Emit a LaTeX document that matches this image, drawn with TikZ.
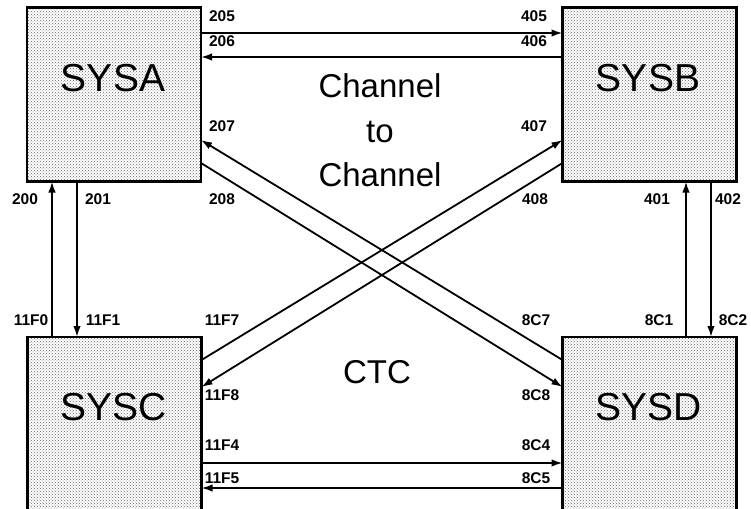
\documentclass[tikz,border=0pt]{standalone}
\usepackage{fontspec}
\setmainfont{Liberation Sans}
\usetikzlibrary{patterns,calc,arrows.meta}
\begin{document}
\begin{tikzpicture}[x=1pt,y=-1pt,
  sysbox/.style={draw=black,line width=2.6pt,pattern=crosshatch dots,pattern color=black!60,
    minimum width=174pt,minimum height=174pt,inner sep=0pt,outer sep=0pt},
  bigname/.style={font=\fontsize{39}{39}\selectfont,anchor=base,inner sep=0pt},
  midtext/.style={font=\fontsize{33}{33}\selectfont,anchor=base,inner sep=0pt},
  port/.style={font=\bfseries\fontsize{15.5}{15.5}\selectfont,anchor=base,inner sep=0pt},
  link/.style={line width=1.8pt},
  arr/.style={link,-{Latex[length=11pt,width=7.5pt]}}]
\clip (0,0) rectangle (751,508);
\fill[white] (0,0) rectangle (751,508);
% boxes
\node[sysbox] (A) at (114,94.5) {};
\node[sysbox] (B) at (649.5,94.5) {};
\node[sysbox] (C) at (114.5,424) {};
\node[sysbox] (D) at (649.5,424) {};
\node[bigname] (tA) at (113,92) {SYSA};
\node[bigname] (tB) at (648,92) {SYSB};
\node[bigname] (tC) at (114,420) {SYSC};
\node[bigname] (tD) at (649,420) {SYSD};
% middle text
\node[midtext] (ch1) at (380,98) {Channel};
\node[midtext] (to) at (380,142) {to};
\node[midtext] (ch2) at (380,186) {Channel};
\node[midtext] (ctc) at (377,383) {CTC};
% connector end points
\coordinate (a205) at ($(A.north east)+(0,25.5)$);
\coordinate (a206) at ($(A.north east)+(0,49.5)$);
\coordinate (a207) at ($(A.north east)+(0,132.5)$);
\coordinate (a208) at ($(A.north east)+(0,155.5)$);
\coordinate (b405) at ($(B.north west)+(0,25.5)$);
\coordinate (b406) at ($(B.north west)+(0,49.5)$);
\coordinate (b407) at ($(B.north west)+(0,132.5)$);
\coordinate (b408) at ($(B.north west)+(0,155.5)$);
\coordinate (c11F7) at ($(C.north east)+(0,23)$);
\coordinate (c11F8) at ($(C.north east)+(0,50)$);
\coordinate (c11F4) at ($(C.north east)+(0,126)$);
\coordinate (c11F5) at ($(C.north east)+(0,151)$);
\coordinate (d8C7) at ($(D.north west)+(0,23)$);
\coordinate (d8C8) at ($(D.north west)+(0,50)$);
\coordinate (d8C4) at ($(D.north west)+(0,126)$);
\coordinate (d8C5) at ($(D.north west)+(0,151)$);
\coordinate (a200) at ($(A.south west)+(25,0)$);
\coordinate (a201) at ($(A.south west)+(50,0)$);
\coordinate (c11F0) at ($(C.north west)+(24.5,0)$);
\coordinate (c11F1) at ($(C.north west)+(49.5,0)$);
\coordinate (b401) at ($(B.south west)+(123.5,0)$);
\coordinate (b402) at ($(B.south west)+(148.5,0)$);
\coordinate (d8C1) at ($(D.north west)+(123.5,0)$);
\coordinate (d8C2) at ($(D.north west)+(148.5,0)$);
% connectors
\draw[arr] (a205) -- (b405);
\draw[arr] (b406) -- (a206);
\draw[arr] (d8C7) -- (a207);
\draw[arr] (a208) -- (d8C8);
\draw[arr] (c11F7) -- (b407);
\draw[arr] (b408) -- (c11F8);
\draw[arr] (c11F4) -- (d8C4);
\draw[arr] (d8C5) -- (c11F5);
\draw[arr] (c11F0) -- (a200);
\draw[arr] (a201) -- (c11F1);
\draw[arr] (d8C1) -- (b401);
\draw[arr] (b402) -- (d8C2);
% port labels
\node[port] (l205) at (222,22) {205};
\node[port] (l206) at (222,47) {206};
\node[port] (l207) at (222,131) {207};
\node[port] (l208) at (222,204) {208};
\node[port] (l200) at (25,204) {200};
\node[port] (l201) at (98,204) {201};
\node[port] (l405) at (534,22) {405};
\node[port] (l406) at (534,47) {406};
\node[port] (l407) at (534,131) {407};
\node[port] (l408) at (535,204) {408};
\node[port] (l401) at (657,204) {401};
\node[port] (l402) at (728,204) {402};
\node[port] (l11F0) at (31,325) {11F0};
\node[port] (l11F1) at (103,325) {11F1};
\node[port] (l11F7) at (222,325) {11F7};
\node[port] (l11F8) at (222,400) {11F8};
\node[port] (l11F4) at (222,450) {11F4};
\node[port] (l11F5) at (222,483) {11F5};
\node[port] (l8C7) at (536,325) {8C7};
\node[port] (l8C1) at (659,325) {8C1};
\node[port] (l8C2) at (733,325) {8C2};
\node[port] (l8C8) at (536,400) {8C8};
\node[port] (l8C4) at (536,450) {8C4};
\node[port] (l8C5) at (536,483) {8C5};
\end{tikzpicture}
\end{document}
